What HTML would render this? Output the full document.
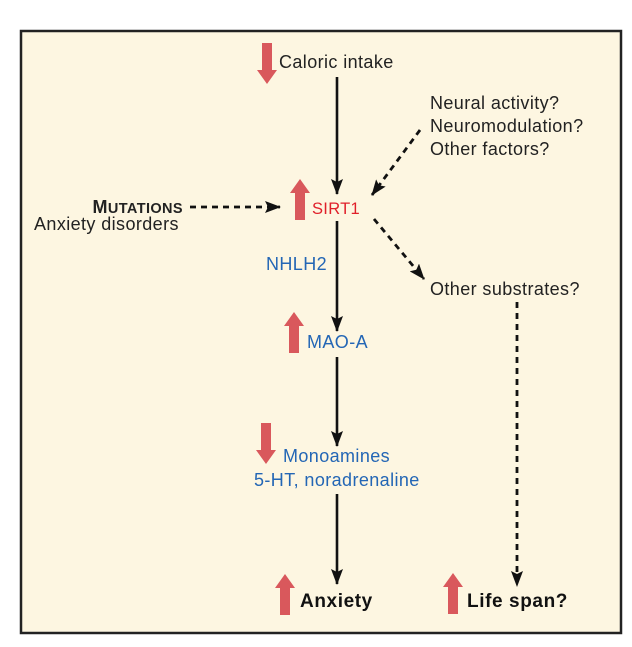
<!DOCTYPE html>
<html><head><style>
html,body{margin:0;padding:0;background:#fff;}
svg{display:block;}
text{font-family:"Liberation Sans",Arial,sans-serif;}
</style></head><body>
<svg width="632" height="647" viewBox="0 0 632 647" xmlns="http://www.w3.org/2000/svg">
<defs>
<marker id="ah" markerWidth="16" markerHeight="12" refX="15" refY="6" orient="auto" markerUnits="userSpaceOnUse">
<path d="M0,0 L16,6 L0,12 L3,6 Z" fill="#111"/>
</marker>
<g id="up"><path d="M0,14 L10,0 L20,14 L15,14 L15,41 L5,41 L5,14 Z" fill="#d9585c"/></g>
<g id="dn"><path d="M5,0 L15,0 L15,27 L20,27 L10,41 L0,27 L5,27 Z" fill="#d9585c"/></g>
</defs>
<rect x="21" y="31" width="600" height="602" fill="#fdf6e1" stroke="#222" stroke-width="2.5"/>
<g stroke="#111" stroke-width="2.6" fill="none">
<line x1="337" y1="77" x2="337" y2="194" marker-end="url(#ah)"/>
<line x1="337" y1="221" x2="337" y2="331" marker-end="url(#ah)"/>
<line x1="337" y1="357" x2="337" y2="446" marker-end="url(#ah)"/>
<line x1="337" y1="494" x2="337" y2="584" marker-end="url(#ah)"/>
</g>
<g stroke="#111" stroke-width="2.8" fill="none" stroke-dasharray="6,5">
<line x1="190" y1="207" x2="280" y2="207" marker-end="url(#ah)"/>
<line x1="420" y1="130" x2="372" y2="195" marker-end="url(#ah)"/>
<line x1="374" y1="219" x2="424" y2="279" marker-end="url(#ah)"/>
<line x1="517" y1="302" x2="517" y2="586" marker-end="url(#ah)"/>
</g>
<use href="#dn" x="257" y="43"/>
<use href="#up" x="290" y="179"/>
<use href="#up" x="284" y="312"/>
<use href="#dn" x="256" y="423"/>
<use href="#up" x="275" y="574"/>
<use href="#up" x="443" y="573"/>
<g font-size="18" fill="#222" letter-spacing="0.4">
<text x="279" y="68">Caloric intake</text>
<text x="430" y="109">Neural activity?</text>
<text x="430" y="132">Neuromodulation?</text>
<text x="430" y="155">Other factors?</text>
<text x="430" y="295">Other substrates?</text>
<text x="183" y="213" text-anchor="end" font-weight="bold">M<tspan font-size="14.5">UTATIONS</tspan></text>
<text x="34" y="230">Anxiety disorders</text>
</g>
<text x="312" y="214" font-size="16.5" fill="#e0202a" letter-spacing="0.3">SIRT1</text>
<g font-size="18" fill="#2366b5" letter-spacing="0.4">
<text x="266" y="270">NHLH2</text>
<text x="307" y="348">MAO-A</text>
<text x="283" y="462">Monoamines</text>
<text x="254" y="486">5-HT, noradrenaline</text>
</g>
<g font-size="19" font-weight="bold" fill="#111" letter-spacing="0.6">
<text x="300" y="607">Anxiety</text>
<text x="467" y="607">Life span?</text>
</g>
</svg>
</body></html>
